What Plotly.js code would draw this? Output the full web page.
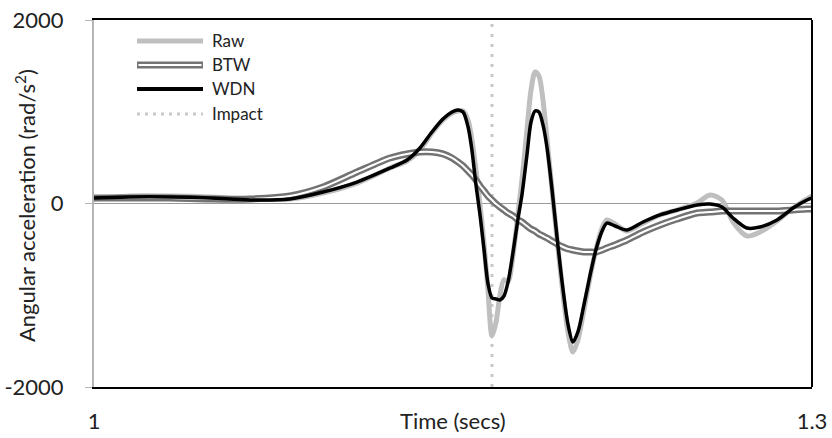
<!DOCTYPE html>
<html>
<head>
<meta charset="utf-8">
<script src="https://cdn.plot.ly/plotly-3.0.1.min.js"></script>
<style>
html,body{margin:0;padding:0;background:#fff;}
#chart{width:832px;height:438px;}
</style>
</head>
<body>
<div id="chart"></div>
<script>
// Time (secs)
const time = [1.0000,1.0150,1.0318,1.0485,1.0652,1.0819,1.0957,1.1099,1.1237,1.1308,
  1.1362,1.1412,1.1458,1.1496,1.1521,1.1542,1.1563,1.1579,1.1596,1.1613,
  1.1630,1.1646,1.1663,1.1680,1.1696,1.1713,1.1730,1.1751,1.1772,1.1788,
  1.1809,1.1826,1.1843,1.1859,1.1876,1.1893,1.1914,1.1935,1.1960,1.1981,
  1.2001,1.2022,1.2047,1.2072,1.2097,1.2123,1.2143,1.2177,1.2227,1.2294,
  1.2365,1.2436,1.2520,1.2574,1.2624,1.2670,1.2728,1.2783,1.2854,1.2921,
  1.2979,1.3000];

// Angular acceleration (rad/s^2)
const raw = [49,82,82,71,49,49,114,223,387,463,
  583,768,910,986,1008,1008,910,692,365,-16,
  -452,-943,-1444,-1292,-1000,-830,-850,-560,-93,256,
  801,1237,1433,1390,1128,692,147,-398,-997,-1411,
  -1619,-1488,-1161,-812,-507,-267,-180,-223,-300,-213,
  -125,-71,5,93,38,-202,-354,-311,-191,-49,
  49,82];

const btw = [60,60,60,49,49,82,180,343,496,540,
  561,561,540,496,452,409,354,311,256,191,
  136,82,38,-5,-38,-71,-104,-136,-180,-202,
  -245,-278,-300,-332,-354,-376,-409,-441,-474,-496,
  -507,-518,-529,-529,-529,-507,-485,-452,-398,-311,
  -234,-169,-104,-93,-82,-82,-82,-82,-82,-71,
  -60,-60];

const wdn = [60,71,71,60,38,49,125,234,387,474,
  605,779,921,997,1019,997,834,583,200,-125,
  -510,-870,-1030,-1041,-1052,-1008,-856,-529,-158,93,
  529,888,1008,997,856,605,147,-376,-943,-1324,
  -1510,-1400,-1106,-790,-507,-300,-213,-245,-289,-202,
  -125,-71,-16,-5,-38,-158,-267,-256,-180,-49,
  38,60];

const impactTime = [1.1663, 1.1663];
const impactRange = [-2000, 2000];

const seriesNames = ["Raw", "BTW", "WDN", "Impact"];
const xTicks = [1, 1.3];
const xTickText = ["1", "1.3"];
const yTicks = [-2000, 0, 2000];
const yTickText = ["-2000", "0", "2000"];

const FONT = "Lato, 'Open Sans', sans-serif";
const cRaw = "#bfbfbf", cBtw = "#737373", cWdn = "#000000", cImp = "#c8c8c8";

const traces = [
  {x: impactTime, y: impactRange, mode: "lines", name: seriesNames[3], showlegend: false,
   line: {color: cImp, width: 3, dash: "3px,7px"}, hoverinfo: "skip"},
  {x: time, y: raw, mode: "lines", name: seriesNames[0], showlegend: false,
   line: {color: cRaw, width: 5, shape: "spline", smoothing: 0.8}},
  {x: time, y: btw, mode: "lines", name: seriesNames[1], showlegend: false,
   line: {color: cBtw, width: 7, shape: "spline", smoothing: 0.8}},
  {x: time, y: btw, mode: "lines", name: seriesNames[1] + " centre", showlegend: false,
   line: {color: "#ffffff", width: 2, shape: "spline", smoothing: 0.8}, hoverinfo: "skip"},
  {x: time, y: wdn, mode: "lines", name: seriesNames[2], showlegend: false,
   line: {color: cWdn, width: 3.5, shape: "spline", smoothing: 0.8}}
];

// manual legend (paper coordinates)
const lgX0 = 0.0599, lgX1 = 0.1518, lgTx = 0.1616;
const lgY = [0.9428, 0.8774, 0.8120, 0.7439];
const shapes = [
  {type: "line", xref: "paper", yref: "paper", x0: 1, x1: 1, y0: 0, y1: 1,
   line: {color: "#000", width: 2}},
  {type: "line", xref: "paper", yref: "paper", x0: lgX0, x1: lgX1, y0: lgY[0], y1: lgY[0],
   line: {color: cRaw, width: 5}},
  {type: "line", xref: "paper", yref: "paper", x0: lgX0, x1: lgX1, y0: lgY[1], y1: lgY[1],
   line: {color: cBtw, width: 7}},
  {type: "line", xref: "paper", yref: "paper", x0: lgX0 + 0.002, x1: lgX1 - 0.002, y0: lgY[1], y1: lgY[1],
   line: {color: "#fff", width: 2}},
  {type: "line", xref: "paper", yref: "paper", x0: lgX0, x1: lgX1, y0: lgY[2], y1: lgY[2],
   line: {color: cWdn, width: 4}},
  {type: "line", xref: "paper", yref: "paper", x0: lgX0, x1: lgX1, y0: lgY[3], y1: lgY[3],
   line: {color: cImp, width: 3, dash: "3px,5px"}}
];

const annotations = seriesNames.map((n, i) => ({
  xref: "paper", yref: "paper", x: lgTx, y: lgY[i], text: n, showarrow: false,
  xanchor: "left", yanchor: "middle", font: {family: FONT, size: 17, color: "#222"}
}));
annotations.push({
  xref: "paper", yref: "paper", x: 0.5, y: -0.0926, text: "Time (secs)", showarrow: false,
  xanchor: "center", yanchor: "middle", font: {family: FONT, size: 22, color: "#222"}
});
annotations.push({
  xref: "paper", yref: "paper", x: -0.0961, y: 0.493, text: "Angular acceleration (rad/s<sup>2</sup>)",
  showarrow: false, textangle: -90, xanchor: "center", yanchor: "middle",
  font: {family: FONT, size: 22, color: "#222"}
});

const layout = {
  width: 832, height: 438,
  margin: {l: 94, r: 20, t: 20, b: 51},
  paper_bgcolor: "#fff", plot_bgcolor: "#fff",
  showlegend: false,
  font: {family: FONT, color: "#222"},
  xaxis: {range: [1, 1.3], tickvals: xTicks, ticktext: xTickText, showgrid: false, zeroline: false,
          showline: true, linecolor: "#000", linewidth: 2, mirror: true, ticks: "",
          ticklabelstandoff: 14, tickfont: {family: FONT, size: 22, color: "#222"}, fixedrange: true},
  yaxis: {range: [-2000, 2000], tickvals: yTicks, ticktext: yTickText, showgrid: false,
          zeroline: true, zerolinecolor: "#9a9a9a", zerolinewidth: 1,
          showline: true, linecolor: "#b5b5b5", linewidth: 2, ticks: "outside", ticklen: 7,
          tickcolor: "#b5b5b5", tickwidth: 1, ticklabelstandoff: 17,
          tickfont: {family: FONT, size: 22, color: "#222"}, fixedrange: true},
  shapes: shapes,
  annotations: annotations
};

Plotly.newPlot("chart", traces, layout, {displayModeBar: false, staticPlot: true});
</script>
</body>
</html>
